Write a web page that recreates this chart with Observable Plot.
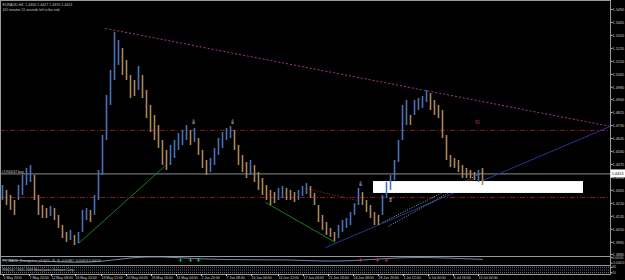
<!DOCTYPE html>
<html><head><meta charset="utf-8">
<script src="https://cdn.jsdelivr.net/npm/d3@7"></script>
<script src="https://cdn.jsdelivr.net/npm/@observablehq/plot@0.6"></script>
<style>
html,body{margin:0;padding:0;background:#000;}
#chart{width:625px;height:280px;overflow:hidden;background:#000;}
#chart svg{display:block;}
</style></head><body><div id="chart"></div>
<script>
const highs = [1.4337,1.4305,1.4272,1.4239,1.4337,1.4403,1.4449,1.4468,1.4403,1.4272,
1.4206,1.4187,1.4200,1.4187,1.4141,1.4075,1.4030,1.4043,1.4010,1.4030,
1.4174,1.4187,1.4174,1.4272,1.4436,1.4665,1.4927,1.5091,1.5339,1.5287,
1.5235,1.5156,1.5058,1.5025,1.5117,1.5058,1.4960,1.4861,1.4796,1.4730,
1.4632,1.4567,1.4599,1.4632,1.4678,1.4698,1.4730,1.4698,1.4711,1.4645,
1.4567,1.4501,1.4514,1.4580,1.4645,1.4684,1.4711,1.4724,1.4698,1.4599,
1.4534,1.4488,1.4501,1.4468,1.4422,1.4383,1.4337,1.4305,1.4291,1.4318,
1.4331,1.4318,1.4305,1.4291,1.4305,1.4331,1.4350,1.4331,1.4285,1.4206,
1.4141,1.4095,1.4056,1.4030,1.4075,1.4108,1.4121,1.4160,1.4219,1.4318,
1.4291,1.4239,1.4206,1.4160,1.4141,1.4272,1.4357,1.4403,1.4501,1.4632,
1.4861,1.4894,1.4796,1.4894,1.4907,1.4920,1.4960,1.4940,1.4894,1.4861,
1.4828,1.4665,1.4534,1.4514,1.4501,1.4468,1.4449,1.4436,1.4422,1.4436,1.4449];
const lows = [1.4239,1.4206,1.4174,1.4141,1.4239,1.4272,1.4337,1.4357,1.4239,1.4141,
1.4121,1.4121,1.4134,1.4108,1.4056,1.3990,1.3964,1.3977,1.3944,1.3957,
1.4030,1.4108,1.4095,1.4141,1.4239,1.4403,1.4632,1.4861,1.5025,1.5123,
1.5058,1.5025,1.4907,1.4920,1.4960,1.4907,1.4776,1.4684,1.4632,1.4580,
1.4468,1.4436,1.4468,1.4514,1.4567,1.4599,1.4632,1.4599,1.4619,1.4534,
1.4449,1.4403,1.4422,1.4468,1.4534,1.4580,1.4632,1.4645,1.4567,1.4468,
1.4422,1.4383,1.4403,1.4357,1.4305,1.4272,1.4239,1.4206,1.4219,1.4239,
1.4252,1.4239,1.4239,1.4226,1.4239,1.4265,1.4278,1.4252,1.4206,1.4095,
1.4043,1.4010,1.3997,1.3970,1.3990,1.4030,1.4056,1.4075,1.4141,1.4206,
1.4206,1.4160,1.4121,1.4075,1.4075,1.4141,1.4252,1.4305,1.4370,1.4488,
1.4632,1.4730,1.4730,1.4796,1.4828,1.4842,1.4881,1.4828,1.4796,1.4776,
1.4645,1.4501,1.4455,1.4449,1.4422,1.4383,1.4383,1.4383,1.4370,1.4357,1.4337];

const priceTicks = [1.5490,1.5405,1.5320,1.5235,1.5150,1.5065,1.4980,1.4900,1.4815,1.4730,
1.4645,1.4560,1.4475,1.4390,1.4305,1.4220,1.4135,1.4050,1.3965,1.3885];
const timeLabels = ["5 May 2010","7 May 20:00","12 May 08:00","16 May 20:00","19 May 12:00","24 May 00:00",
"26 May 16:00","31 May 04:00","2 Jun 20:00","7 Jun 08:00","10 Jun 00:00","14 Jun 12:00","17 Jun 04:00",
"21 Jun 16:00","24 Jun 08:00","28 Jun 20:00","1 Jul 12:00","6 Jul 00:00","8 Jul 16:00","13 Jul 04:00"];
const timeLabelPos = [0,6.5,12,18,24.5,30.75,37,43.25,49.5,55.75,62,68.75,75,81.25,87.5,93.75,100,106.25,112.5,118.75];

const levelLines = [1.4698, 1.4259];
const currentPrice = 1.4413;
const trendNames = ["resist","support","green1","green2","reddot","dotA","dotB"];
const trendX1 = [25.75, 80.75, 19, 65.75, 75.75, 95, 96.5];
const trendY1 = [1.5366, 1.3931, 1.3957, 1.4226, 1.4318, 1.4095, 1.4070];
const trendX2 = [152, 152, 40.75, 83.25, 88.75, 120, 118];
const trendY2 = [1.4724, 1.4725, 1.4468, 1.3964, 1.4239, 1.4422, 1.4383];
const trendColor = ["#9b3a8f","#26349c","#1f7a1f","#1f7a1f","#8b1c1c","#8fb08f","#9aa0b8"];
const trendDash = ["2,2",null,null,null,"1.5,1.5","1,1.5","1,1.5"];
const zone = {x1: 92.75, x2: 145.25, y1: 1.4285, y2: 1.4363};
const signalX = [47.75, 57.5, 89.5, 97];
const signalY = [1.4750, 1.4750, 1.4344, 1.4239];
const signalGlyph = ["⇩","⇩","⇩","⇧"];
const macdPos = [0,8,16,24,32,40,48,56,64,72,80,88,96,104,112,120];
const macdVals = [-0.0010,-0.0020,-0.0030,-0.0025,0.0010,0.0020,0.0005,-0.0005,-0.0008,-0.0010,-0.0020,-0.0015,0.0005,0.0015,0.0008,-0.0004];
const macdUpMarks = [44.5, 47, 49];
const macdDnMarks = [89.5, 93.75, 96];
const rsiLevels = [80, 20];

const UP = "#4672b8", DOWN = "#b08556", GRAY = "#c8c8c8";
const bars = highs.map((h, i) => ({
  i, high: h, low: lows[i],
  up: i === 0 ? true : (h + lows[i]) >= (highs[i - 1] + lows[i - 1])
}));
const trends = trendNames.map((n, k) => ({n, x1: trendX1[k], y1: trendY1[k], x2: trendX2[k], y2: trendY2[k], c: trendColor[k], d: trendDash[k]}));
const xDom = [-0.5, 152];
const font = "Liberation Sans";

const main = Plot.plot({
  width: 625, height: 256, marginTop: 0, marginBottom: 0, marginLeft: 0, marginRight: 15,
  style: {background: "#000", fontFamily: font},
  x: {domain: xDom, axis: null},
  y: {domain: [1.3872, 1.5549], axis: null},
  marks: [
    Plot.ruleY(levelLines, {stroke: "#8b1c1c", strokeDasharray: "5,2,1,2", strokeWidth: 1}),
    Plot.ruleY([currentPrice], {stroke: "#b0b0b0", strokeWidth: 0.8}),
    ...trends.map(t => Plot.link([t], {x1: "x1", y1: "y1", x2: "x2", y2: "y2", stroke: t.c, strokeWidth: 1, strokeDasharray: t.d})),
    Plot.rect([zone], {x1: "x1", x2: "x2", y1: "y1", y2: "y2", fill: "#fff"}),
    Plot.ruleX(bars, {x: "i", y1: "low", y2: "high", stroke: d => d.up ? UP : DOWN, strokeWidth: 1.6}),
    Plot.text(signalX, {x: d => d, y: (d, k) => signalY[k], text: (d, k) => signalGlyph[k], fill: "#fff", fontSize: 6}),
    Plot.text(["Ю"], {x: 118.75, y: 1.4750, fill: "#c83030", fontSize: 4.5}),
    Plot.text(["#1700037 buy"], {x: -0.25, y: currentPrice, dy: -2.5, textAnchor: "start", fill: GRAY, fontSize: 3.5}),
    Plot.text(["EURAUD,H4  1.4400 1.4427 1.4370 1.4413"], {frameAnchor: "top-left", dx: 2, dy: 3, lineAnchor: "top", textAnchor: "start", fill: GRAY, fontSize: 3.6}),
    Plot.text(["105 minutes 51 seconds left to bar end"], {frameAnchor: "top-left", dx: 2, dy: 8, lineAnchor: "top", textAnchor: "start", fill: GRAY, fontSize: 3.3}),
    Plot.frame({stroke: "#9a9a9a"}),
    Plot.axisY(priceTicks, {anchor: "right", tickSize: 1.5, tickPadding: 0.5, fontSize: 3.8, color: GRAY, tickFormat: d => d.toFixed(4)}),
    Plot.rect([currentPrice], {x1: 152.1, x2: 156, y1: d => d - 0.0026, y2: d => d + 0.0026, fill: "#fff"}),
    Plot.text([currentPrice], {x: 152.3, y: d => d, text: d => d.toFixed(4), textAnchor: "start", fill: "#000", fontSize: 3.8})
  ]
});

const macd = Plot.plot({
  width: 625, height: 9, marginTop: 0, marginBottom: 0, marginLeft: 0, marginRight: 15,
  style: {background: "#000", fontFamily: font},
  x: {domain: xDom, axis: null},
  y: {domain: [-0.0065, 0.0025], axis: null},
  marks: [
    Plot.line(macdPos, {x: d => d, y: (d, k) => macdVals[k], stroke: "#8fa6d8", strokeWidth: 0.8, curve: "natural"}),
    Plot.dot(macdUpMarks, {x: d => d, y: -0.0012, symbol: "plus", r: 1.3, stroke: "#2fbf5f", strokeWidth: 0.8}),
    Plot.dot(macdDnMarks, {x: d => d, y: -0.0012, symbol: "plus", r: 1.3, stroke: "#d03030", strokeWidth: 0.8}),
    Plot.text(["FX_MACD_Divergence_v1.0(12, 26, 9) -0.00487 -0.00413 0.00074"], {frameAnchor: "left", dx: 2, textAnchor: "start", fill: GRAY, fontSize: 3.3}),
    Plot.frame({stroke: "#9a9a9a"}),
    Plot.axisY([0.0014, -0.0041], {anchor: "right", tickSize: 1.5, tickPadding: 0.5, fontSize: 3, color: GRAY, tickFormat: d => d.toFixed(5)})
  ]
});

const labelByPos = new Map(timeLabelPos.map((p, k) => [p, timeLabels[k]]));
const rsi = Plot.plot({
  width: 625, height: 15, marginTop: 0, marginBottom: 6, marginLeft: 0, marginRight: 15,
  style: {background: "#000", fontFamily: font},
  x: {domain: xDom, axis: null},
  y: {domain: [0, 100], axis: null},
  marks: [
    Plot.ruleY(rsiLevels, {stroke: "#9a9a9a", strokeDasharray: "1,1", strokeWidth: 0.8}),
    Plot.ruleY([50], {stroke: "#5b78c0", strokeDasharray: "1,1", strokeWidth: 0.8}),
    Plot.text(["RSI(14) ©2001-2008 MetaQuotes Software Corp."], {frameAnchor: "left", dx: 2, textAnchor: "start", fill: GRAY, fontSize: 3.3}),
    Plot.frame({stroke: "#9a9a9a"}),
    Plot.axisY(rsiLevels, {anchor: "right", tickSize: 1.5, tickPadding: 0.5, fontSize: 3, color: GRAY}),
    Plot.axisX(timeLabelPos, {anchor: "bottom", tickSize: 2, tickPadding: 0, fontSize: 3.5, textAnchor: "start", dx: 1, color: GRAY, tickFormat: d => labelByPos.get(d)})
  ]
});

const root = document.getElementById("chart");
root.append(main, macd, rsi);
</script>
</body></html>
